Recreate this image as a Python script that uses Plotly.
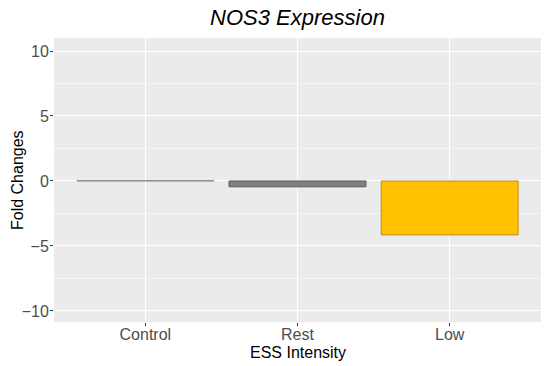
import plotly.graph_objects as go

categories = ["Control", "Rest", "Low"]
values = [0.02, -0.45, -4.15]
fill_colors = ["#A6A6A6", "#808080", "#FFC000"]
line_colors = ["#8C8C8C", "#595959", "#B8912E"]
y_ticks = [-10, -5, 0, 5, 10]

fig = go.Figure()
fig.add_trace(go.Bar(
    x=categories, y=values, width=0.9,
    marker=dict(color=fill_colors, line=dict(color=line_colors, width=1)),
    showlegend=False,
))

fig.update_layout(
    width=550, height=366,
    margin=dict(l=54, r=9, t=38, b=44, autoexpand=False),
    paper_bgcolor="white",
    plot_bgcolor="#EBEBEB",
    font=dict(family="Liberation Sans, Arial, sans-serif", color="#4D4D4D"),
    title=dict(text="<i>NOS3 Expression</i>", x=(54 + 541) / 2 / 550, xanchor="center",
               y=1 - 17 / 366, yanchor="middle", font=dict(size=22, color="black")),
    annotations=[
        dict(text="Fold Changes", xref="paper", yref="paper", x=-(54 - 17) / 487, y=0.5,
             xanchor="center", yanchor="middle", textangle=-90, showarrow=False,
             font=dict(size=16, color="black")),
        dict(text="ESS Intensity", xref="paper", yref="paper", x=0.5, y=-(352 - 322) / 284,
             xanchor="center", yanchor="middle", showarrow=False,
             font=dict(size=16, color="black")),
    ],
)
fig.update_xaxes(
    range=[-0.6, 2.6], showgrid=True, gridcolor="white", gridwidth=1,
    ticks="outside", ticklen=3, tickcolor="#333333",
    tickfont=dict(size=16, color="#4D4D4D"), ticklabelstandoff=-5,
    zeroline=False, automargin=False,
)
fig.update_yaxes(
    range=[-10.85, 11], tickvals=y_ticks, ticktext=["\u221210", "\u22125", "0", "5", "10"],
    showgrid=True, gridcolor="white", gridwidth=1,
    minor=dict(tickvals=[-7.5, -2.5, 2.5, 7.5], showgrid=True, gridcolor="#F5F5F5", gridwidth=0.6),
    ticks="outside", ticklen=3, tickcolor="#333333",
    tickfont=dict(size=16, color="#4D4D4D"), ticklabelstandoff=-2,
    zeroline=False, automargin=False,
)

fig.write_html("out.html", config={"displayModeBar": False},
               post_script="document.body.style.margin='0';document.body.style.overflow='hidden';")
